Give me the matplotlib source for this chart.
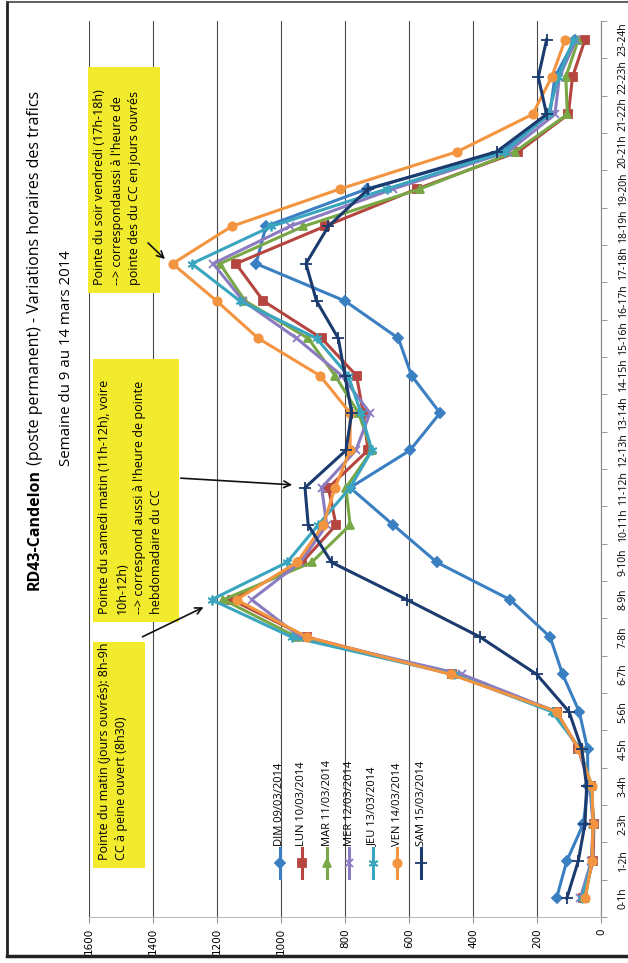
import matplotlib
matplotlib.use("Agg")
import matplotlib.pyplot as plt
from matplotlib.lines import Line2D
from matplotlib.patches import Rectangle, FancyArrowPatch

plt.rcParams['font.family'] = ['Open Sans', 'DejaVu Sans']

hours = ["0-1h", "1-2h", "2-3h", "3-4h", "4-5h", "5-6h", "6-7h", "7-8h", "8-9h", "9-10h",
         "10-11h", "11-12h", "12-13h", "13-14h", "14-15h", "15-16h", "16-17h", "17-18h",
         "18-19h", "19-20h", "20-21h", "21-22h", "22-23h", "23-24h"]

dim = [139, 107, 55, 41, 42, 68, 120, 159, 284, 513, 649, 784, 597, 503, 592, 633, 800, 1078, 1047, 732, 310, 160, 144, 81]
lun = [55, 25, 22, 32, 71, 139, 465, 920, 1154, 934, 828, 852, 728, 743, 764, 873, 1055, 1141, 863, 576, 258, 102, 89, 50]
mar = [50, 28, 25, 28, 68, 145, 460, 951, 1180, 904, 784, 797, 716, 758, 831, 915, 1112, 1191, 930, 566, 269, 105, 110, 71]
mer = [65, 30, 25, 35, 70, 140, 435, 940, 1092, 940, 857, 873, 766, 722, 810, 951, 1118, 1212, 972, 650, 290, 144, 130, 78]
jeu = [60, 28, 24, 32, 65, 154, 460, 967, 1217, 981, 884, 784, 716, 750, 790, 889, 1128, 1279, 1030, 670, 300, 165, 133, 86]
ven = [50, 28, 25, 28, 70, 139, 470, 920, 1139, 950, 868, 831, 784, 784, 878, 1071, 1201, 1339, 1154, 816, 449, 214, 154, 112]
sam = [107, 71, 50, 45, 60, 100, 201, 378, 607, 842, 915, 925, 797, 779, 800, 821, 889, 922, 852, 727, 326, 170, 196, 170]

series_names = ["DIM 09/03/2014", "LUN 10/03/2014", "MAR 11/03/2014", "MER 12/03/2014",
                "JEU 13/03/2014", "VEN 14/03/2014", "SAM 15/03/2014"]
series_values = [dim, lun, mar, mer, jeu, ven, sam]
value_ticks = [0, 200, 400, 600, 800, 1000, 1200, 1400, 1600]

title_bold = "RD43-Candelon"
title_rest = " (poste permanent) - Variations horaires des trafics"
subtitle = "Semaine du 9 au 14 mars 2014"
note_matin = "Pointe du matin (jours ouvrés): 8h-9h\nCC à peine ouvert (8h30)"
note_samedi = ("Pointe du samedi matin (11h-12h), voire\n10h-12h)\n"
               "--> correspond aussi à l'heure de pointe\nhebdomadaire du CC")
note_soir = ("Pointe du soir vendredi (17h-18h)\n--> correspondaussi à l'heure de\n"
             "pointe des du CC en jours ouvrés")

colors = ["#3A7FC1", "#B5453F", "#78A845", "#8B7BC0", "#3AA5BE", "#F39440", "#1B3A6E"]
markers = ["D", "s", "^", "x", (6, 2, 0), "o", "+"]
msizes = [5, 6, 6, 6, 7, 6, 8]

W, H = 628, 963
def fx(x):
    return x / W
def fy(y):
    return 1 - y / H

fig = plt.figure(figsize=(6.28, 9.63), dpi=100)

# page border of the scan
fig.add_artist(Line2D([fx(7), fx(7)], [fy(2), fy(956)], lw=2, color="#222"))
fig.add_artist(Line2D([fx(7), fx(628)], [fy(955.5), fy(955.5)], lw=2.5, color="#222"))
fig.add_artist(Line2D([fx(7), fx(628)], [fy(2), fy(2)], lw=1.2, color="#444"))

ax = fig.add_axes([fx(89), fy(917), fx(601) - fx(89), fy(21) - fy(917)])
ypos = list(range(len(hours)))
for name, vals, c, m, ms in zip(series_names, series_values, colors, markers, msizes):
    ax.plot(vals, ypos, color=c, lw=2.2, marker=m, markersize=ms,
            markeredgewidth=1.3, markerfacecolor=c, markeredgecolor=c, label=name)

ax.set_xlim(1600, 0)
ax.set_ylim(-0.5, len(hours) - 0.5)
ax.set_xticks(value_ticks)
ax.set_xticklabels([str(v) for v in value_ticks], rotation=90, fontsize=7.5,
                   family=['DejaVu Sans'])
ax.grid(axis='x', color="#4a4a4a", lw=0.8)
ax.set_axisbelow(True)
ax.yaxis.tick_right()
ax.set_yticks(ypos)
ax.set_yticklabels(hours, rotation=90, va='center', fontsize=7.5)
ax.set_yticks([i + 0.5 for i in range(-1, len(hours))], minor=True)
ax.tick_params(axis='y', which='major', length=0, pad=12)
ax.tick_params(axis='y', which='minor', length=4, color="#888", direction='out')
ax.tick_params(axis='x', length=4, color="#999", pad=4)
ax.spines['left'].set_visible(False)
ax.spines['top'].set_visible(False)
ax.spines['right'].set_color("#888")
ax.spines['bottom'].set_color("#bbb")

# title and subtitle (rotated)
t1 = fig.text(fx(35), fy(590), title_bold, rotation=90, ha='center', va='bottom',
              fontsize=11.5, fontweight='bold')
ax.annotate(title_rest, xy=(0.5, 1.0), xycoords=t1, rotation=90, ha='center',
            va='bottom', fontsize=11.5, annotation_clip=False)
fig.text(fx(66), fy(358), subtitle, rotation=90, ha='center', va='center', fontsize=10.8)

# yellow note boxes
yellow = "#F2EA2C"
boxes = [((93, 642, 145, 868), note_matin),
         ((93, 359, 179, 622), note_samedi),
         ((88, 67, 160, 293), note_soir)]
for (x0, y0, x1, y1), txt in boxes:
    fig.add_artist(Rectangle((fx(x0), fy(y1)), fx(x1) - fx(x0), fy(y0) - fy(y1),
                             facecolor=yellow, edgecolor='none', transform=fig.transFigure))
    fig.text(fx(x0 + 5), fy(y1 - 8), txt, rotation=90, ha='left', va='bottom',
             fontsize=9, linespacing=1.45, multialignment='left')

# arrows
for (xs, ys), (xe, ye) in [((140, 638), (206, 606)), ((178, 478), (295, 485)), ((146, 241), (167, 261))]:
    fig.add_artist(FancyArrowPatch(
        (fx(xs), fy(ys)), (fx(xe), fy(ye)), transform=fig.transFigure,
        arrowstyle='->', mutation_scale=12, lw=1.2, color='#111'))

# legend (rotated layout)
leg_x = [280, 302, 327, 349, 373, 397, 421]
for lx, name, c, m, ms in zip(leg_x, series_names, colors, markers, msizes):
    fig.add_artist(Line2D([fx(lx), fx(lx)], [fy(878), fy(848)], color=c, lw=2.2,
                          transform=fig.transFigure))
    fig.add_artist(Line2D([fx(lx)], [fy(863)], color=c, marker=m, markersize=ms,
                          markeredgewidth=1.3, markerfacecolor=c, markeredgecolor=c,
                          transform=fig.transFigure))
    fig.text(fx(lx), fy(846), name, rotation=90, ha='center', va='bottom', fontsize=8)

fig.savefig("out.png", dpi=100)
